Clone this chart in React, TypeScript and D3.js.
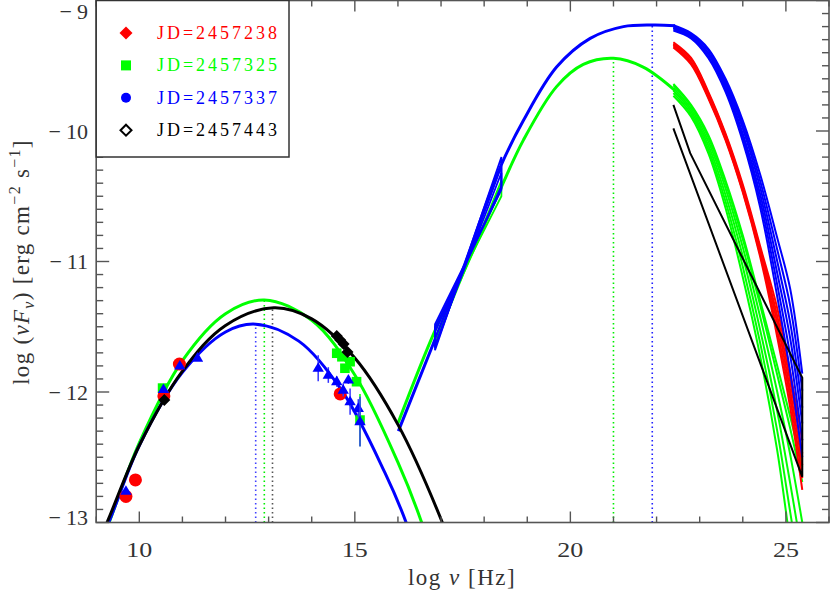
import React from 'react';
import * as d3 from 'd3';

// frequency / flux readings (log nu [Hz], log nuFnu [erg cm^-2 s^-1])
const legendLabels = ['JD=2457238', 'JD=2457325', 'JD=2457337', 'JD=2457443'];
const legendColors = ['#ff0000', '#00ff00', '#0000ff', '#000000'];

const xTickLabels = [10, 15, 20, 25];
const yTickLabels = [-13, -12, -11, -10, -9];

// observed points
const redNu = [9.69, 9.91, 10.57, 10.93, 14.66];
const redFlux = [-12.8, -12.674, -12.03, -11.786, -12.015];

const greenNu = [10.54, 14.58, 14.7, 14.77, 14.89, 15.04, 15.12];
const greenFlux = [-11.97, -11.703, -11.73, -11.818, -11.768, -11.921, -12.215];
const greenErr = [0, 0, 0, 0, 0, 0, 0.2];

const blueNu = [9.69, 10.56, 10.94, 11.35, 14.15, 14.385, 14.58, 14.73, 14.85, 14.89, 15.08, 15.12];
const blueFlux = [-12.76, -11.98, -11.8, -11.74, -11.818, -11.87, -11.92, -11.985, -11.908, -12.074, -12.125, -12.227];
const blueErr = [0, 0, 0, 0, 0.1, 0.06, 0.04, 0.05, 0.03, 0.1, 0.07, 0.19];

const blackNu = [10.58, 14.58, 14.66, 14.74, 14.83];
const blackFlux = [-12.061, -11.571, -11.602, -11.632, -11.694];

// synchrotron model curves
const greenSync: [number, number][] = [[9.1, -13.17], [9.3, -13.0], [10, -12.39], [11, -11.76], [12, -11.4], [12.9, -11.295], [14, -11.45], [15, -11.87], [16, -12.54], [16.55, -13.0], [16.8, -13.27]];
const blueSync: [number, number][] = [[9.1, -13.13], [9.29, -13.0], [10, -12.41], [11, -11.85], [12, -11.54], [12.7, -11.48], [13.7, -11.61], [14.7, -11.99], [15.7, -12.62], [16.19, -13.0], [16.4, -13.22]];
const blackSync: [number, number][] = [[9.05, -13.14], [9.25, -13.0], [10, -12.41], [11, -11.84], [12, -11.49], [13.12, -11.355], [14, -11.44], [15, -11.74], [16, -12.25], [17.03, -13.0], [17.3, -13.25]];

// inverse Compton model curves
const blueIC: [number, number][] = [[16.01, -12.3], [16.82, -11.63], [17.44, -11.12], [18.37, -10.28], [18.91, -9.92], [19.68, -9.51], [20.46, -9.29], [21.23, -9.2], [21.93, -9.188], [22.43, -9.193]];
const greenIC: [number, number][] = [[16.0, -12.24], [16.86, -11.53], [17.44, -11.14], [18.37, -10.45], [18.91, -10.07], [19.68, -9.66], [20.3, -9.49], [21.0, -9.443], [21.69, -9.51], [22.43, -9.69]];

// peak frequencies (dotted markers)
const syncPeakNu = [12.7, 12.9, 13.09];
const syncPeakFlux = [-11.48, -11.295, -11.355];
const syncPeakColors = ['#4040ff', '#00ee00', '#555555'];
const icPeakNu = [21.0, 21.9];
const icPeakFlux = [-9.443, -9.19];
const icPeakColors = ['#00ee00', '#2020ff'];

// X-ray bowties (0.3-10 keV)
const xrayNu = [16.86, 18.4];
const blueBowLeft = [[-11.48, -11.68], [-11.51, -11.66], [-11.54, -11.64]];
const blueBowRight = [[-10.2, -10.45], [-10.27, -10.44], [-10.32, -10.42]];
const greenBowLeft = [[-11.5, -11.63]];
const greenBowRight = [[-10.38, -10.5]];

// gamma-ray spectra
const gammaNu = [22.39, 22.8, 23.2, 23.6, 24.0, 24.4, 24.8, 25.1, 25.38];
const blueGamma = [
  [-9.19, -9.25, -9.37, -9.6, -9.92, -10.33, -10.82, -11.21, -11.86],
  [-9.2, -9.26, -9.38, -9.62, -9.95, -10.38, -10.91, -11.34, -11.99],
  [-9.21, -9.27, -9.4, -9.64, -9.98, -10.43, -11.0, -11.47, -12.12],
  [-9.21, -9.27, -9.41, -9.66, -10.02, -10.48, -11.09, -11.59, -12.24],
  [-9.22, -9.28, -9.43, -9.68, -10.05, -10.53, -11.18, -11.72, -12.37],
  [-9.23, -9.29, -9.44, -9.7, -10.08, -10.58, -11.27, -11.85, -12.5],
];
const redGamma = [
  [-9.32, -9.44, -9.7, -10.02, -10.41, -10.88, -11.36, -11.85, -12.37],
  [-9.33, -9.45, -9.71, -10.03, -10.43, -10.9, -11.42, -11.92, -12.47],
  [-9.34, -9.47, -9.73, -10.05, -10.44, -10.92, -11.47, -11.99, -12.56],
  [-9.35, -9.48, -9.74, -10.06, -10.46, -10.94, -11.53, -12.05, -12.66],
  [-9.36, -9.49, -9.75, -10.07, -10.47, -10.96, -11.58, -12.12, -12.75],
];
const greenGamma = [
  [-9.64, -9.8, -10.03, -10.38, -10.8, -11.295, -11.8, -12.19, -12.57],
  [-9.65, -9.81, -10.05, -10.4, -10.83, -11.33, -11.87, -12.28, -12.69],
  [-9.67, -9.83, -10.08, -10.44, -10.89, -11.42, -12.0, -12.48, -13.0],
  [-9.69, -9.85, -10.11, -10.49, -10.96, -11.52, -12.15, -12.7, -13.25],
  [-9.71, -9.87, -10.14, -10.54, -11.04, -11.62, -12.3, -12.92, -13.5],
  [-9.73, -9.89, -10.17, -10.59, -11.12, -11.72, -12.45, -13.15, -13.75],
];
const blackGammaNu = [22.39, 22.78, 25.38, 25.38, 22.39];
const blackGammaFlux = [-9.8, -10.17, -11.89, -12.65, -9.98];

const W = 830;
const H = 592;
const FONT = '"Liberation Serif", "DejaVu Serif", serif';

const x = d3.scaleLinear().domain([9, 26]).range([96.2, 829]);
const y = d3.scaleLinear().domain([-13, -9]).range([522.5, 0.5]);

const curve = d3.line<[number, number]>().x(d => x(d[0])).y(d => y(d[1])).curve(d3.curveCatmullRom);
const poly = d3.line<[number, number]>().x(d => x(d[0])).y(d => y(d[1])).curve(d3.curveLinearClosed);
const straight = d3.line<[number, number]>().x(d => x(d[0])).y(d => y(d[1]));

const diamond = (cx: number, cy: number, r: number) => `M${cx},${cy - r}L${cx + r},${cy}L${cx},${cy + r}L${cx - r},${cy}Z`;
const triangle = (cx: number, cy: number, r: number) => `M${cx},${cy - r}L${cx + r * 0.95},${cy + r * 0.6}L${cx - r * 0.95},${cy + r * 0.6}Z`;

const bowtie = (left: number[], right: number[]): [number, number][] => [
  [xrayNu[0], left[1]], [xrayNu[1], right[0]], [xrayNu[1], right[1]], [xrayNu[0], left[0]],
];

const App: React.FC = () => {
  const [xa, xb] = x.range();
  const [ya, yb] = y.range();
  const minorX = x.ticks(17);
  const minorY = y.ticks(40);

  return (
    <div style={{ position: 'absolute', left: 0, top: 0 }}>
      <svg width={W} height={H} style={{ display: 'block', background: '#fff' }}>
        <defs>
          <clipPath id="plot">
            <rect x={xa} y={yb} width={xb - xa} height={ya - yb} />
          </clipPath>
        </defs>

        <g clipPath="url(#plot)">
          {/* dotted peak markers */}
          {syncPeakNu.map((n, i) => (
            <line key={'sp' + i} x1={x(n)} x2={x(n)} y1={ya} y2={y(syncPeakFlux[i])}
              stroke={syncPeakColors[i]} strokeWidth={1.6} strokeDasharray="1.5,3" />
          ))}
          {icPeakNu.map((n, i) => (
            <line key={'ip' + i} x1={x(n)} x2={x(n)} y1={ya} y2={y(icPeakFlux[i])}
              stroke={icPeakColors[i]} strokeWidth={1.6} strokeDasharray="1.5,3" />
          ))}

          {/* model curves */}
          <path d={curve(greenSync) ?? ''} fill="none" stroke="#00ff00" strokeWidth={3} />
          <path d={curve(greenIC) ?? ''} fill="none" stroke="#00ff00" strokeWidth={3} />
          <path d={curve(blueSync) ?? ''} fill="none" stroke="#0000ff" strokeWidth={3} />
          <path d={curve(blueIC) ?? ''} fill="none" stroke="#0000ff" strokeWidth={3} />
          <path d={curve(blackSync) ?? ''} fill="none" stroke="#000" strokeWidth={3} />

          {/* X-ray bowties */}
          {greenBowLeft.map((l, i) => (
            <path key={'gb' + i} d={poly(bowtie(l, greenBowRight[i])) ?? ''} fill="none" stroke="#00ff00" strokeWidth={1.8} />
          ))}
          {blueBowLeft.map((l, i) => (
            <path key={'bb' + i} d={poly(bowtie(l, blueBowRight[i])) ?? ''} fill="none" stroke="#0000ff" strokeWidth={1.8} />
          ))}

          {/* gamma-ray spectra */}
          {greenGamma.map((row, i) => (
            <path key={'gg' + i} d={curve(d3.zip(gammaNu, row) as [number, number][]) ?? ''} fill="none" stroke="#00ff00" strokeWidth={2} />
          ))}
          {redGamma.map((row, i) => (
            <path key={'rg' + i} d={curve(d3.zip(gammaNu, row) as [number, number][]) ?? ''} fill="none" stroke="#ff0000" strokeWidth={2} />
          ))}
          {blueGamma.map((row, i) => (
            <path key={'bg' + i} d={curve(d3.zip(gammaNu, row) as [number, number][]) ?? ''} fill="none" stroke="#0000ff" strokeWidth={2} />
          ))}
          <path d={straight(d3.zip(blackGammaNu, blackGammaFlux) as [number, number][]) ?? ''}
            fill="none" stroke="#000" strokeWidth={2} />

          {/* data points */}
          {redNu.map((n, i) => (
            <circle key={'r' + i} cx={x(n)} cy={y(redFlux[i])} r={6.5} fill="#ff0000" />
          ))}
          {greenNu.map((n, i) => (
            <g key={'g' + i}>
              {greenErr[i] > 0 && (
                <line x1={x(n)} x2={x(n)} y1={y(greenFlux[i] + greenErr[i])} y2={y(greenFlux[i] - greenErr[i])} stroke="#00ff00" strokeWidth={1.5} />
              )}
              <rect x={x(n) - 4.8} y={y(greenFlux[i]) - 4.8} width={9.6} height={9.6} fill="#00ff00" />
            </g>
          ))}
          {blueNu.map((n, i) => (
            <g key={'b' + i}>
              {blueErr[i] > 0 && (
                <line x1={x(n)} x2={x(n)} y1={y(blueFlux[i] + blueErr[i])} y2={y(blueFlux[i] - blueErr[i])} stroke="#3333ff" strokeWidth={1.5} />
              )}
              <path d={triangle(x(n), y(blueFlux[i]), 6)} fill="#0000ff" />
            </g>
          ))}
          {blackNu.map((n, i) => (
            <path key={'k' + i} d={diamond(x(n), y(blackFlux[i]), 6)} fill="#000" />
          ))}
        </g>

        {/* frame */}
        <rect x={xa} y={yb} width={xb - xa} height={ya - yb} fill="none" stroke="#555" strokeWidth={1.6} />

        {/* ticks */}
        {minorX.map(t => {
          const major = t % 5 === 0;
          const len = major ? 11 : 6;
          return (
            <g key={'xt' + t} stroke="#555" strokeWidth={1.4}>
              <line x1={x(t)} x2={x(t)} y1={ya} y2={ya - len} />
              <line x1={x(t)} x2={x(t)} y1={yb} y2={yb + len} />
            </g>
          );
        })}
        {minorY.map(t => {
          const major = Math.abs(t - Math.round(t)) < 1e-6;
          const len = major ? 13 : 7;
          return (
            <g key={'yt' + t} stroke="#555" strokeWidth={1.4}>
              <line x1={xa} x2={xa + len} y1={y(t)} y2={y(t)} />
              <line x1={xb} x2={xb - len} y1={y(t)} y2={y(t)} />
            </g>
          );
        })}

        {/* tick labels */}
        {xTickLabels.map(t => (
          <text key={'xl' + t} x={x(t)} y={557} textAnchor="middle" fontFamily={FONT} fontSize={22} fill="#333"
            textLength={26} lengthAdjust="spacingAndGlyphs">{t}</text>
        ))}
        {yTickLabels.map(t => {
          const cy = Math.max(11, Math.min(517, y(t)));
          return (
            <text key={'yl' + t} x={88} y={cy + 7.5} textAnchor="end" fontFamily={FONT} fontSize={22} fill="#333">
              {'\u2212'}<tspan dx={5}>{Math.abs(t)}</tspan>
            </text>
          );
        })}

        {/* axis titles */}
        <text x={462} y={585} textAnchor="middle" fontFamily={FONT} fontSize={23} letterSpacing={1.5} fill="#333">
          log <tspan fontStyle="italic">ν</tspan> [Hz]
        </text>
        <text transform="translate(29,262) rotate(-90)" textAnchor="middle" fontFamily={FONT} fontSize={23} letterSpacing={1.3} fill="#333">
          log (<tspan fontStyle="italic">νF</tspan><tspan fontStyle="italic" fontSize={16} dy={5}>ν</tspan><tspan dy={-5}>) [erg cm</tspan><tspan fontSize={16} dy={-9}>−2</tspan><tspan dy={9}> s</tspan><tspan fontSize={16} dy={-9}>−1</tspan><tspan dy={9}>]</tspan>
        </text>

        {/* legend */}
        <rect x={xa} y={yb} width={289 - xa} height={157 - yb} fill="#fff" stroke="#333" strokeWidth={1.5} />
        {legendLabels.map((lab, i) => {
          const cy = 33 + i * 32.4;
          let sym: React.ReactNode;
          if (i === 0) sym = <path d={diamond(126, cy, 6.5)} fill={legendColors[i]} />;
          else if (i === 1) sym = <rect x={121} y={cy - 5} width={10} height={10} fill={legendColors[i]} />;
          else if (i === 2) sym = <circle cx={126} cy={cy} r={5} fill={legendColors[i]} />;
          else sym = <path d={diamond(126, cy, 5.5)} fill="none" stroke="#000" strokeWidth={2} />;
          return (
            <g key={'lg' + i}>
              {sym}
              <text x={157} y={cy + 6} fontFamily={FONT} fontSize={18} fill={legendColors[i]}
                textLength={120} lengthAdjust="spacing">{lab}</text>
            </g>
          );
        })}
      </svg>
    </div>
  );
};

export default App;
